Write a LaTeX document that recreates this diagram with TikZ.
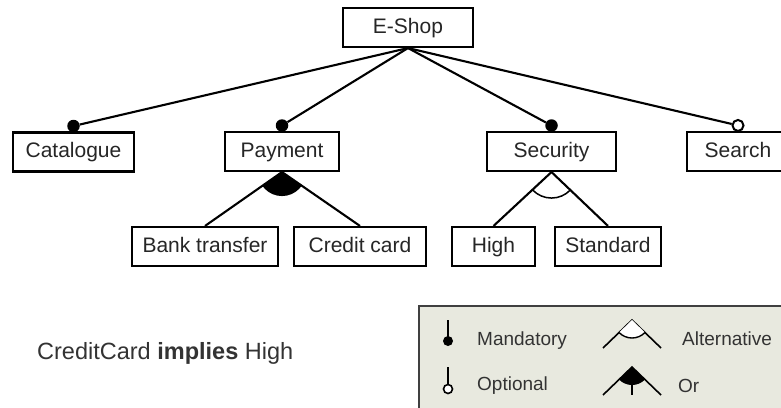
\documentclass[tikz,border=0pt]{standalone}
\usepackage{fontspec}
\setmainfont{Liberation Sans}
\usetikzlibrary{positioning}

\definecolor{legendbg}{RGB}{232,233,223}

\tikzset{
  feature/.style={draw, line width=2.1pt, minimum height=39pt, inner sep=0pt, fill=white, text=black!85,
    text height=15.5pt, text depth=4.5pt},
  mandatory/.style={circle, fill=black, minimum size=12.5pt, inner sep=0pt},
  optional/.style={circle, draw, fill=white, line width=2pt, minimum size=11pt, inner sep=0pt},
  link/.style={line width=2.1pt},
  legend/.style={anchor=west, inner sep=0pt, font=\fontsize{19}{23}\selectfont, text=black!80}
}

\begin{document}
\begin{tikzpicture}[x=1pt, y=1pt, font=\fontsize{21}{25}\selectfont]
		\useasboundingbox (0,0) rectangle (781,-407);
		\clip (0,0) rectangle (781,-407);
		
		% features
		\foreach \n/\t/\x/\y/\w in {eshop/E-Shop/408/27.5/130, cat/Catalogue/73.5/152/121,
			pay/Payment/282/151.5/114, sec/Security/551.5/151.5/129, search/Search/738/151.5/102,
			bank/Bank transfer/205/246.5/146, credit/Credit card/360/246.5/132,
			high/High/493.5/246.5/83, std/Standard/608/246.5/106}
		\node [feature, minimum width=\w pt] (\n) at (\x,-\y) {\t};
		
		\foreach \n in {cat,pay,sec}
		\node [mandatory, above=-1pt of \n] (\n-dot) {};
		\node [optional, above=-1pt of search] (search-dot) {};
		
		\foreach \n in {cat,pay,sec,search}
		\draw [link] (eshop.south) -- (\n-dot);
		
		% or group
		\draw [link] (bank.north) -- (pay.south) -- (credit.north);
		\begin{scope}
		\clip (pay.south) -- (bank.north) -- (credit.north) -- cycle;
		\fill (pay.south) circle (24);
		\end{scope}
		
		% alternative group
		\draw [link] (high.north) -- (sec.south) -- (std.north);
		\begin{scope}
		\clip (sec.south) -- (high.north) -- (std.north) -- cycle;
		\draw [line width=1.5pt] (sec.south) circle (26);
		\end{scope}
		
		\node [anchor=west, inner sep=0pt, font=\fontsize{23.5}{28}\selectfont, text=black!80] (constraint) at (37,-353) {CreditCard \textbf{implies} High};
		
		% legend
		\draw [line width=1.6pt, draw=black!75, fill=legendbg] (419,-306) rectangle (800,-420);
		\draw [line width=1.6pt] (448,-320) -- (448,-337);
		\fill (448,-341) circle (5);
		\draw [line width=1.6pt] (448,-367) -- (448,-384);
		\draw [line width=1.6pt, fill=white] (448,-389) circle (4.5);
		
		\draw [line width=1.6pt] (603,-348) -- (632,-320) -- (661,-348);
		\begin{scope}
		\clip (632,-320) -- (603,-348) -- (661,-348) -- cycle;
		\draw [line width=1.4pt, fill=white] (632,-320) circle (18);
		\end{scope}
		\draw [line width=1.6pt] (603,-395) -- (632,-367) -- (661,-395);
		\begin{scope}
		\clip (632,-367) -- (603,-395) -- (661,-395) -- cycle;
		\fill (632,-367) circle (18);
		\end{scope}
		\draw [line width=1.6pt] (632,-384) -- (632,-395);
		
		\node [legend] (mand-lbl) at (477,-341) {Mandatory};
		\node [legend] (opt-lbl) at (477,-386) {Optional};
		\node [legend] (alt-lbl) at (682,-339) {Alternative};
		\node [legend] (or-lbl) at (678,-386) {Or};
		
\end{tikzpicture}
\end{document}
